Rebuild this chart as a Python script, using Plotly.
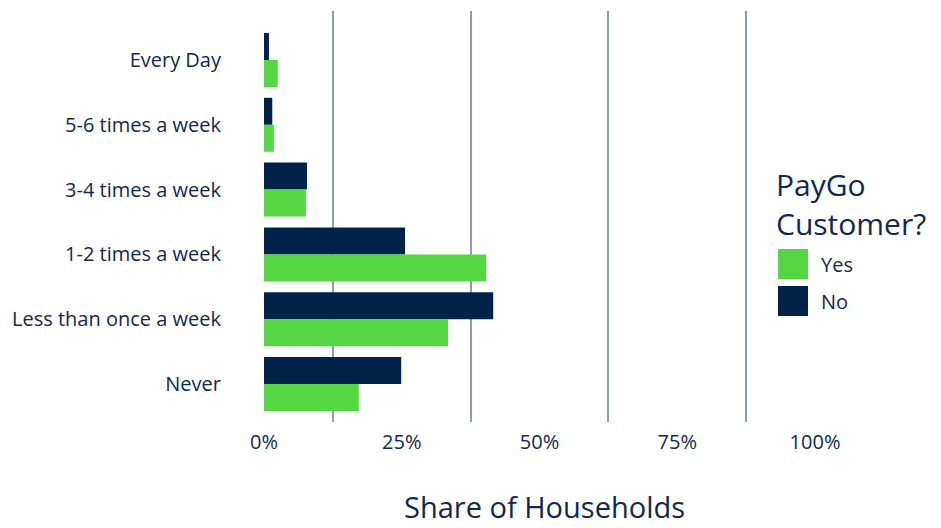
import plotly.graph_objects as go

# Share of households by frequency, split by PayGo customer status
categories = [
    "Every Day",
    "5-6 times a week",
    "3-4 times a week",
    "1-2 times a week",
    "Less than once a week",
    "Never",
]
share_no = [0.9, 1.5, 7.8, 25.6, 41.6, 24.9]
share_yes = [2.5, 1.8, 7.6, 40.3, 33.4, 17.2]

x_ticks = [0, 25, 50, 75, 100]
x_tick_labels = ["0%", "25%", "50%", "75%", "100%"]
x_grid = [12.5, 37.5, 62.5, 87.5]

series_names = ["Yes", "No"]
legend_title = "PayGo<br>Customer?"
x_title = "Share of Households"

COLOR_YES = "#55D643"
COLOR_NO = "#022349"
TEXT = "#10294C"
GRID = "#8C9CB2"
FONT = "Open Sans"

W, H = 941, 528
M_L, M_R, M_T, M_B = 264, 126, 11, 106
plot_w = W - M_L - M_R
plot_h = H - M_T - M_B


def px_x(p):
    return (p - M_L) / plot_w


def px_y(p):
    return (H - M_B - p) / plot_h


fig = go.Figure()
fig.add_trace(go.Bar(y=categories, x=share_no, orientation="h", name="No",
                     marker=dict(color=COLOR_NO, line=dict(width=0)),
                     showlegend=False))
fig.add_trace(go.Bar(y=categories, x=share_yes, orientation="h", name="Yes",
                     marker=dict(color=COLOR_YES, line=dict(width=0)),
                     showlegend=False))

# Axis title and legend block (title plus square swatches)
shapes = []
annotations = [
    dict(text=x_title, x=px_x(544), y=px_y(506), xref="paper", yref="paper",
         xanchor="center", yanchor="middle", showarrow=False,
         font=dict(family=FONT, size=29, color=TEXT)),
    dict(text=legend_title, x=px_x(774), y=px_y(162), xref="paper", yref="paper",
         xanchor="left", yanchor="top", align="left", showarrow=False,
         font=dict(family=FONT, size=30, color=TEXT)),
]
for name, color, top in [(series_names[0], COLOR_YES, 249), (series_names[1], COLOR_NO, 286)]:
    shapes.append(dict(type="rect", xref="paper", yref="paper",
                       x0=px_x(778), x1=px_x(808), y0=px_y(top + 30), y1=px_y(top),
                       fillcolor=color, line=dict(width=0), layer="above"))
    annotations.append(dict(text=name, x=px_x(819), y=px_y(top + 15), xref="paper",
                            yref="paper", xanchor="left", yanchor="middle",
                            showarrow=False, font=dict(family=FONT, size=20, color=TEXT)))

fig.update_layout(
    width=W, height=H,
    margin=dict(l=M_L, r=M_R, t=M_T, b=M_B, pad=0, autoexpand=False),
    plot_bgcolor="white", paper_bgcolor="white",
    barmode="group", bargap=0.167, bargroupgap=0,
    font=dict(family=FONT, color=TEXT, size=20),
    showlegend=False,
    shapes=shapes,
    annotations=annotations,
    xaxis=dict(
        range=[0, 100], tickvals=x_ticks, ticktext=x_tick_labels,
        showgrid=False, zeroline=False, showline=False, automargin=False,
        ticks="outside", ticklen=2, tickcolor="rgba(0,0,0,0)",
        tickfont=dict(family=FONT, size=20, color=TEXT),
        minor=dict(tickmode="array", tickvals=x_grid, showgrid=True,
                   gridcolor=GRID, gridwidth=2, ticks=""),
    ),
    yaxis=dict(
        type="category", categoryorder="array", categoryarray=categories,
        range=[5.586, -0.756], automargin=False,
        showgrid=False, zeroline=False, showline=False,
        ticks="outside", ticklen=38, tickcolor="rgba(0,0,0,0)",
        tickfont=dict(family=FONT, size=20, color=TEXT),
    ),
)

fig.write_html("out.html")
